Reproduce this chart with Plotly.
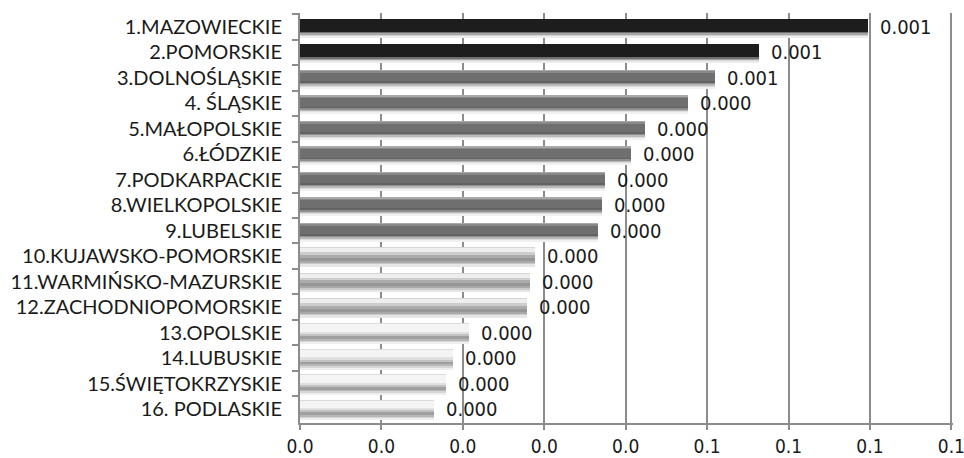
import plotly.graph_objects as go

# Voivodeships, ordered from the largest value to the smallest
regions = [
    "1.MAZOWIECKIE", "2.POMORSKIE", "3.DOLNOŚLĄSKIE", "4. ŚLĄSKIE",
    "5.MAŁOPOLSKIE", "6.ŁÓDZKIE", "7.PODKARPACKIE", "8.WIELKOPOLSKIE",
    "9.LUBELSKIE", "10.KUJAWSKO-POMORSKIE", "11.WARMIŃSKO-MAZURSKIE",
    "12.ZACHODNIOPOMORSKIE", "13.OPOLSKIE", "14.LUBUSKIE",
    "15.ŚWIĘTOKRZYSKIE", "16. PODLASKIE",
]
values = [
    0.0698, 0.0564, 0.0510, 0.0477,
    0.0424, 0.0406, 0.0374, 0.0371,
    0.0366, 0.0289, 0.0283, 0.0279,
    0.0207, 0.0188, 0.0179, 0.0164,
]
# shading group of each bar (0 = black, 1 = dark grey, 2 = light grey, 3 = white)
groups = [0, 0, 1, 1, 1, 1, 1, 1, 1, 2, 2, 2, 3, 3, 3, 3]

x_ticks = [0.0, 0.01, 0.02, 0.03, 0.04, 0.05, 0.06, 0.07, 0.08]

BAND_PX = 25.6  # height of one category band in pixels

# Shading of each bar, top to bottom: (top px, colour) measured from the band
# centre downwards; each layer runs to the common bottom and the next one is
# painted over it, so the layers join without gaps.
shading = {
    0: (10.5, [(-8.5, "#1d1d1d"), (4.9, "#6f6f6f"), (6.3, "#a6a6a6"),
               (7.8, "#d2d2d2"), (9.3, "#ececec")]),
    1: (10.8, [(-8.0, "#a9a9a9"), (-6.8, "#888888"), (-5.0, "#6f6f6f"),
               (3.2, "#626262"), (4.9, "#8e8e8e"), (6.4, "#b9b9b9"),
               (8.0, "#dddddd"), (9.6, "#f0f0f0")]),
    2: (10.5, [(-9.0, "#d6d6d6"), (-8.0, "#eeeeee"), (-3.8, "#cdcdcd"),
               (-1.5, "#ababab"), (1.5, "#969696"), (4.5, "#a9a9a9"),
               (6.5, "#c9c9c9"), (8.5, "#e6e6e6")]),
    3: (11.5, [(-9.5, "#dcdcdc"), (-8.5, "#f4f4f4"), (-1.0, "#e0e0e0"),
               (1.5, "#c2c2c2"), (3.5, "#9f9f9f"), (6.0, "#b6b6b6"),
               (8.0, "#d6d6d6"), (10.0, "#eeeeee")]),
}

fig = go.Figure()

for g, (bottom, layers) in shading.items():
    ys = [r for r, gg in zip(regions, groups) if gg == g]
    xs = [v for v, gg in zip(values, groups) if gg == g]
    for top, colour in layers:
        fig.add_trace(go.Bar(
            x=xs, y=ys, orientation="h",
            offset=top / BAND_PX, width=(bottom - top) / BAND_PX,
            marker=dict(color=colour, line=dict(width=0)),
            showlegend=False, hoverinfo="skip",
        ))

# value labels: the same figures expressed in hundreds
label_font = dict(family="Liberation Sans Narrow, DejaVu Sans Condensed, Arial Narrow, sans-serif",
                  size=20, color="#1a1a1a")
for r, v in zip(regions, values):
    fig.add_annotation(
        x=v, y=r, text=f"{v / 100:.3f}", showarrow=False,
        xanchor="left", yanchor="middle", xshift=10, yshift=0,
        font=label_font,
    )

fig.update_layout(
    width=964, height=458,
    margin=dict(l=300, r=11, t=13, b=35),
    paper_bgcolor="white", plot_bgcolor="white",
    barmode="overlay",
    bargap=0,
)
fig.update_xaxes(
    range=[0, 0.0802], tickvals=x_ticks, tickformat=".1f",
    showgrid=True, gridcolor="#8c8c8c", gridwidth=1.5,
    showline=True, linecolor="#8c8c8c", linewidth=2,
    ticks="outside", ticklen=5, tickcolor="#8c8c8c", tickwidth=1.5,
    tickfont=dict(label_font, size=19), zeroline=False, automargin=False,
    ticklabelstandoff=0, ticklabeloverflow="allow",
)
fig.update_yaxes(
    type="category", categoryorder="array", categoryarray=regions,
    autorange="reversed", tickson="boundaries",
    showline=True, linecolor="#8c8c8c", linewidth=2,
    ticks="outside", ticklen=6, tickcolor="#8c8c8c", tickwidth=1.5,
    showgrid=False, ticklabelstandoff=12, automargin=False,
    tickfont=dict(family="Lato, Open Sans, sans-serif", size=20, color="#1a1a1a"),
)

fig.write_html("out.html")
